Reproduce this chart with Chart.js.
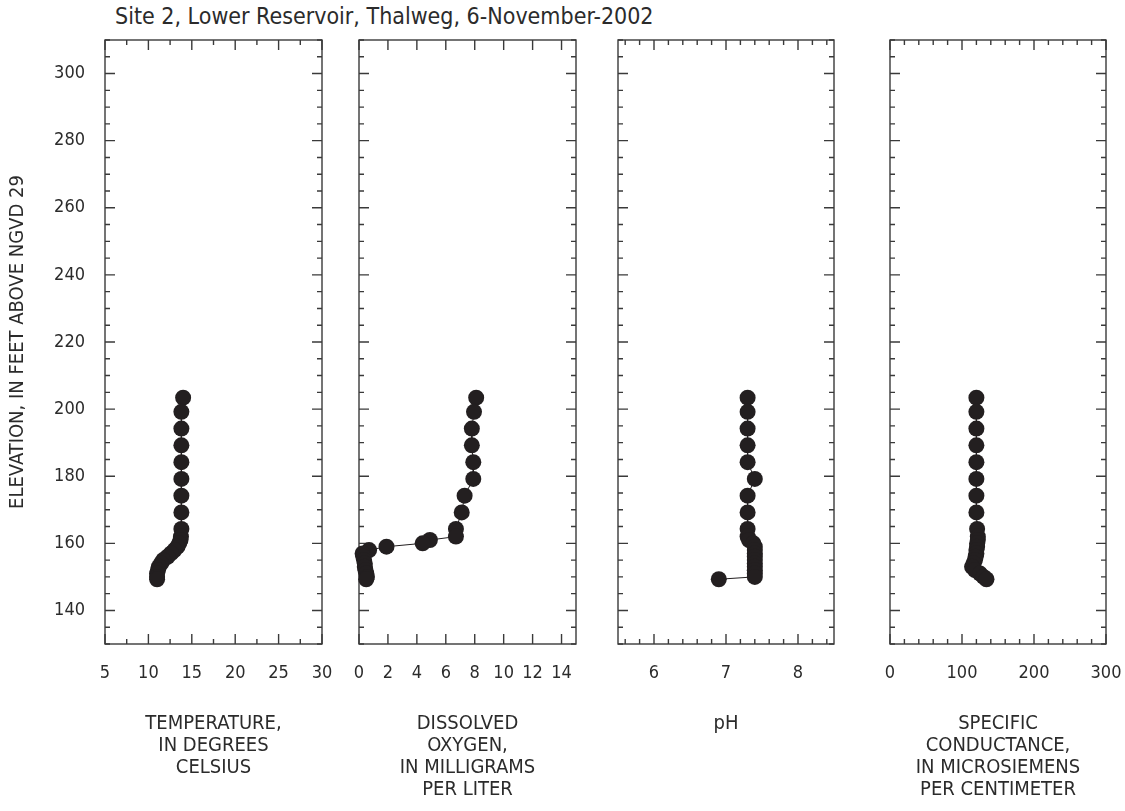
<!DOCTYPE html>
<html>
<head>
<meta charset="utf-8">
<title>Site 2 profiles</title>
<script src="https://cdn.jsdelivr.net/npm/chart.js@4.4.1/dist/chart.umd.min.js"></script>
<style>
  html, body { margin: 0; padding: 0; background: #fff; }
  #wrap { position: relative; width: 1125px; height: 811px; overflow: hidden; background: #fff; }
  #wrap canvas { position: absolute; top: 0; }
  #header {
    position: absolute; left: 115px; top: 2px;
    font-family: "Liberation Sans Narrow", "DejaVu Sans Condensed", sans-serif;
    font-size: 23px; line-height: 28px; color: #2b2b2b; white-space: nowrap;
  }
</style>
</head>
<body>
<div id="wrap">
  <div id="header">Site 2, Lower Reservoir, Thalweg, 6-November-2002</div>
</div>
<script>
// Profile readings, top of the water column to the bottom (feet above NGVD 29)
const elevation = [203.4, 199.2, 194.2, 189.2, 184.2, 179.2, 174.2, 169.2, 164.3,
                   162, 161, 160, 159, 158, 157, 156, 155, 154, 153, 152, 151, 150, 149.3];
const temperature = [14.0, 13.8, 13.8, 13.8, 13.8, 13.8, 13.8, 13.8, 13.8,
                     13.75, 13.7, 13.55, 13.35, 13.0, 12.6, 12.2, 11.7, 11.45, 11.2, 11.1, 11.0, 11.0, 11.0];
const dissolvedOxygen = [8.1, 7.95, 7.8, 7.8, 7.9, 7.9, 7.3, 7.1, 6.7,
                         6.7, 4.9, 4.4, 1.9, 0.7, 0.25, 0.3, 0.35, 0.4, 0.4, 0.45, 0.5, 0.55, 0.5];
const ph = [7.3, 7.3, 7.3, 7.3, 7.3, 7.4, 7.3, 7.3, 7.3,
            7.3, 7.32, 7.38, 7.4, 7.4, 7.4, 7.4, 7.4, 7.4, 7.4, 7.4, 7.4, 7.4, 6.9];
const conductance = [120, 120, 120, 120, 120, 120, 120, 120, 121,
                     122, 122, 121, 121, 120, 120, 119, 118, 116, 114, 118, 125, 130, 134];

// Tick labels
const elevationTicks = [140, 160, 180, 200, 220, 240, 260, 280, 300];
const temperatureTicks = [5, 10, 15, 20, 25, 30];
const oxygenTicks = [0, 2, 4, 6, 8, 10, 12, 14];
const phTicks = [6, 7, 8];
const conductanceTicks = [0, 100, 200, 300];

const INK = '#231f20';
const TEXT = '#2b2b2b';
const FONT = '"Liberation Sans Narrow", "DejaVu Sans Condensed", sans-serif';
const HEIGHT = 811, PLOT_TOP = 40, PLOT_BOTTOM = 644;
const SIDE = 45;
const TITLE_SIZE = 20, TITLE_LH = 22, TITLE_FIRST_LINE = 724;

// Frame with inward tick marks on all four sides
const frameTicks = {
  id: 'frameTicks',
  beforeDatasetsDraw(chart, args, opts) {
    const {ctx, chartArea: a, scales: {x, y}} = chart;
    const marks = (scale, step, major) => {
      const out = [];
      for (let k = Math.ceil(scale.min / step - 1e-9); k * step <= scale.max + 1e-9; k++) {
        const v = k * step;
        const isMajor = Math.abs(v / major - Math.round(v / major)) < 1e-6;
        out.push([scale.getPixelForValue(v), isMajor ? opts.majorLen : opts.minorLen]);
      }
      return out;
    };
    ctx.save();
    ctx.strokeStyle = opts.color;
    ctx.lineWidth = opts.width;
    ctx.strokeRect(a.left, a.top, a.right - a.left, a.bottom - a.top);
    ctx.beginPath();
    for (const [px, len] of marks(x, opts.xMinor, opts.xMajor)) {
      ctx.moveTo(px, a.bottom); ctx.lineTo(px, a.bottom - len);
      ctx.moveTo(px, a.top); ctx.lineTo(px, a.top + len);
    }
    for (const [py, len] of marks(y, opts.yMinor, opts.yMajor)) {
      ctx.moveTo(a.left, py); ctx.lineTo(a.left + len, py);
      ctx.moveTo(a.right, py); ctx.lineTo(a.right - len, py);
    }
    ctx.stroke();
    ctx.restore();
  }
};

const panels = [
  { values: temperature, ticks: temperatureTicks, min: 5, max: 30, minor: 2.5, major: 5,
    title: ['TEMPERATURE,', 'IN DEGREES', 'CELSIUS'], left: 105, right: 322 },
  { values: dissolvedOxygen, ticks: oxygenTicks, min: 0, max: 15, minor: 2, major: 2,
    title: ['DISSOLVED', 'OXYGEN,', 'IN MILLIGRAMS', 'PER LITER'], left: 359, right: 576 },
  { values: ph, ticks: phTicks, min: 5.5, max: 8.5, minor: 0.2, major: 1,
    title: ['pH'], left: 618, right: 834 },
  { values: conductance, ticks: conductanceTicks, min: 0, max: 300, minor: 20, major: 100,
    title: ['SPECIFIC', 'CONDUCTANCE,', 'IN MICROSIEMENS', 'PER CENTIMETER'], left: 890, right: 1106 }
];

const wrap = document.getElementById('wrap');

panels.forEach((p, i) => {
  const first = i === 0;
  const padL = first ? 0 : SIDE;
  const padR = SIDE;
  const yWidth = first ? p.left : 0;
  const canvasLeft = first ? 0 : p.left - padL;
  const width = padL + yWidth + (p.right - p.left) + padR;

  const canvas = document.createElement('canvas');
  canvas.width = width;
  canvas.height = HEIGHT;
  canvas.style.left = canvasLeft + 'px';
  canvas.style.width = width + 'px';
  canvas.style.height = HEIGHT + 'px';
  wrap.appendChild(canvas);

  new Chart(canvas, {
    type: 'scatter',
    data: {
      datasets: [{
        data: elevation.map((e, k) => ({ x: p.values[k], y: e })),
        showLine: true,
        borderColor: INK,
        borderWidth: 1,
        pointRadius: 8,
        pointHoverRadius: 8,
        pointBackgroundColor: INK,
        pointBorderWidth: 0,
        clip: false
      }]
    },
    options: {
      responsive: false,
      animation: false,
      events: [],
      layout: { padding: { top: PLOT_TOP, left: padL, right: padR, bottom: 0 } },
      plugins: {
        legend: { display: false },
        tooltip: { enabled: false },
        frameTicks: {
          color: '#3a3a3a', width: 1.4, majorLen: 10, minorLen: 5,
          xMinor: p.minor, xMajor: p.major, yMinor: 5, yMajor: 20
        }
      },
      scales: {
        x: {
          type: 'linear', position: 'bottom', min: p.min, max: p.max,
          grid: { display: false, drawTicks: false },
          border: { display: false },
          afterBuildTicks: s => { s.ticks = p.ticks.map(v => ({ value: v })); },
          afterFit: s => { s.height = HEIGHT - PLOT_BOTTOM; },
          ticks: {
            padding: 19, color: TEXT, maxRotation: 0, autoSkip: false,
            font: { family: FONT, size: 18 },
            callback: v => String(v)
          },
          title: {
            display: true, text: p.title, color: TEXT,
            font: { family: FONT, size: TITLE_SIZE, lineHeight: TITLE_LH / TITLE_SIZE },
            padding: { top: 0, bottom: HEIGHT - TITLE_FIRST_LINE - TITLE_LH / 2 - TITLE_LH * (p.title.length - 1) }
          }
        },
        y: {
          type: 'linear', position: 'left', min: 130, max: 310,
          display: first,
          grid: { display: false, drawTicks: false },
          border: { display: false },
          afterBuildTicks: s => { s.ticks = elevationTicks.map(v => ({ value: v })); },
          afterFit: s => { s.width = yWidth; },
          ticks: {
            padding: 20, color: TEXT, autoSkip: false,
            font: { family: FONT, size: 18 },
            callback: v => String(v)
          },
          title: {
            display: first, text: 'ELEVATION, IN FEET ABOVE NGVD 29', color: TEXT,
            font: { family: FONT, size: 20 },
            padding: { top: 6, bottom: 0 }
          }
        }
      }
    },
    plugins: [frameTicks]
  });
});
</script>
</body>
</html>
